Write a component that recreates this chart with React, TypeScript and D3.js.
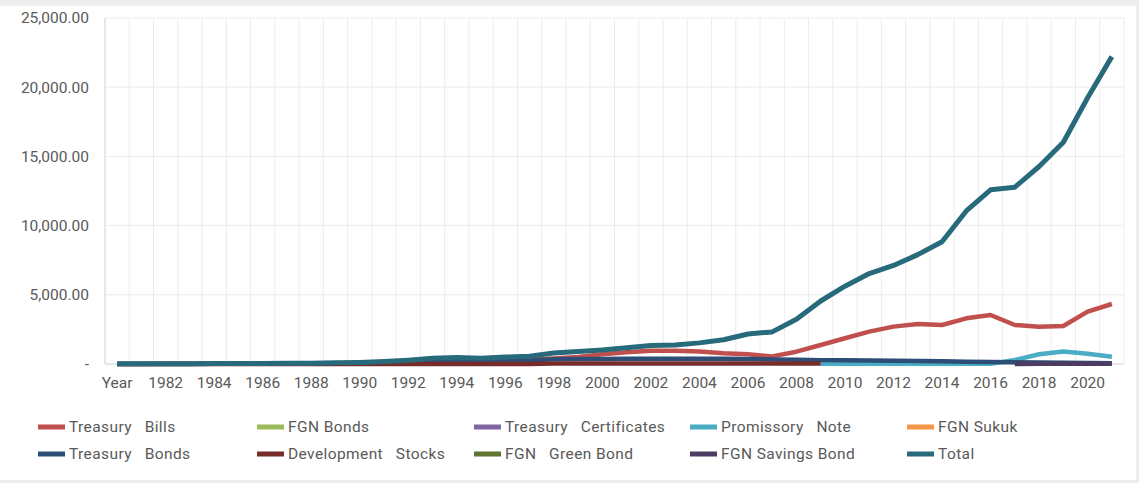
import React from "react";
import * as d3 from "d3";

const categories = ["Year","1981","1982","1983","1984","1985","1986","1987","1988","1989","1990","1991","1992","1993","1994","1995","1996","1997","1998","1999","2000","2001","2002","2003","2004","2005","2006","2007","2008","2009","2010","2011","2012","2013","2014","2015","2016","2017","2018","2019","2020","2021"];

const yTicks = [0, 5000, 10000, 15000, 20000, 25000];

const N = null;
const treasuryBills = [6,8,12,15,17,19,22,25,25,30,40,80,100,150,180,200,250,300,400,500,700,850,950,960,900,780,700,550,890,1370,1860,2340,2700,2890,2820,3300,3540,2820,2700,2750,3780,4335];
const fgnBonds = [N,N,N,N,N,N,N,N,N,N,N,N,N,N,N,N,N,N,N,N,N,N,N,N,N,N,N,N,N,N,N,N,N,N,N,N,N,N,N,N,N,N];
const treasuryCertificates = [2,3,5,8,10,12,15,18,20,25,30,35,40,45,50,55,N,N,N,N,N,N,N,N,N,N,N,N,N,N,N,N,N,N,N,N,N,N,N,N,N,N];
const promissoryNote = [N,N,N,N,N,N,N,N,N,N,N,N,N,N,N,N,N,N,N,N,N,N,N,N,N,N,N,N,N,20,20,15,15,15,10,10,10,290,700,900,740,530];
const fgnSukuk = [N,N,N,N,N,N,N,N,N,N,N,N,N,N,N,N,N,N,N,N,N,N,N,N,N,N,N,N,N,N,N,N,N,N,N,N,N,N,N,N,N,N];
const treasuryBonds = [N,N,N,N,N,N,N,N,N,40,80,120,160,220,260,200,220,240,340,360,360,380,380,380,380,380,360,330,300,280,270,260,240,220,200,170,140,120,100,85,70,55];
const developmentStocks = [3,3,3,3,3,3,3,3,3,3,3,3,3,3,3,3,3,3,30,30,30,30,30,30,30,30,30,30,30,30,N,N,N,N,N,N,N,N,N,N,N,N];
const fgnGreenBond = [N,N,N,N,N,N,N,N,N,N,N,N,N,N,N,N,N,N,N,N,N,N,N,N,N,N,N,N,N,N,N,N,N,N,N,N,N,N,N,N,N,N];
const fgnSavingsBond = [N,N,N,N,N,N,N,N,N,N,N,N,N,N,N,N,N,N,N,N,N,N,N,N,N,N,N,N,N,N,N,N,N,N,N,N,N,3,10,15,20,25];
const total = [11,15,22,26,28,28,37,47,47,84,116,178,274,408,478,420,502,561,795,898,1017,1166,1330,1370,1526,1753,2170,2320,3228,4552,5623,6538,7119,7904,8837,11058,12589,12774,14272,16023,19242,22210];

const seriesNames = ["Treasury   Bills","FGN Bonds","Treasury   Certificates","Promissory   Note","FGN Sukuk","Treasury   Bonds","Development   Stocks","FGN   Green Bond","FGN Savings Bond","Total"];
const seriesColors = ["#C0504D","#9BBB59","#8064A2","#4BACC6","#F79646","#2C4D75","#772C2A","#5F7530","#4D3B62","#276A7C"];
const seriesValues = [treasuryBills,fgnBonds,treasuryCertificates,promissoryNote,fgnSukuk,treasuryBonds,developmentStocks,fgnGreenBond,fgnSavingsBond,total];

const W = 1139, H = 483;
const left = 105, right = 1124, top = 18, bottom = 364;

export default function App() {
  const x = d3.scaleBand<string>().domain(categories).range([left, right]).paddingInner(0).paddingOuter(0);
  const y = d3.scaleLinear().domain([0, 25000]).range([bottom, top]);
  const cx = (c: string) => (x(c) as number) + x.bandwidth() / 2;
  const fmt = d3.format(",.2f");
  const line = d3.line<number | null>()
    .defined((d) => d != null)
    .x((_, i) => cx(categories[i]))
    .y((d) => y(d as number));

  const gridX = categories.map((c) => x(c) as number).concat([right]);
  const labelCats = categories.filter((_, i) => i % 2 === 0);
  const legendCols = [38, 257, 474, 690, 907];
  const legendRows = [427, 454];

  return (
    <svg width={W} height={H} style={{ position: "absolute", left: 0, top: 0, fontFamily: "Roboto, sans-serif" }}>
      <rect x={0} y={0} width={W} height={H} fill="#eeeeee" />
      <rect x={0} y={6} width={1136} height={474} fill="#ffffff" />
      {yTicks.map((t) => (
        <line key={"gy" + t} x1={left} x2={right} y1={y(t)} y2={y(t)} stroke="#ececec" strokeWidth={1} />
      ))}
      {gridX.map((gx, i) => (
        <line key={"gx" + i} x1={gx} x2={gx} y1={top} y2={bottom} stroke="#ececec" strokeWidth={1} />
      ))}
      <line x1={left} x2={left} y1={top} y2={bottom} stroke="#d9d9d9" />
      <line x1={left} x2={right} y1={bottom} y2={bottom} stroke="#d9d9d9" />
      {yTicks.map((t) => (
        <text key={"yl" + t} x={89} y={y(t)} dy="0.35em" textAnchor="end" fontSize={15.5} fill="#595959">
          {t === 0 ? "-" : fmt(t)}
        </text>
      ))}
      {labelCats.map((c) => (
        <text key={"xl" + c} x={cx(c)} y={383} dy="0.35em" textAnchor="middle" fontSize={15.5} fill="#595959">
          {c}
        </text>
      ))}
      {seriesValues.map((vals, i) => (
        <path key={"s" + i} d={line(vals) || ""} fill="none" stroke={seriesColors[i]}
          strokeWidth={i === 9 ? 5 : 4.5} strokeLinejoin="round" strokeLinecap="butt" />
      ))}
      {seriesNames.map((name, i) => {
        const lx = legendCols[i % 5];
        const ly = legendRows[Math.floor(i / 5)];
        return (
          <g key={"lg" + i}>
            <rect x={lx} y={ly - 2.5} width={27} height={5} fill={seriesColors[i]} />
            <text x={lx + 31} y={ly} dy="0.35em" fontSize={15.5} letterSpacing={0.4} fill="#595959" style={{ whiteSpace: "pre" }}>
              {name}
            </text>
          </g>
        );
      })}
    </svg>
  );
}
